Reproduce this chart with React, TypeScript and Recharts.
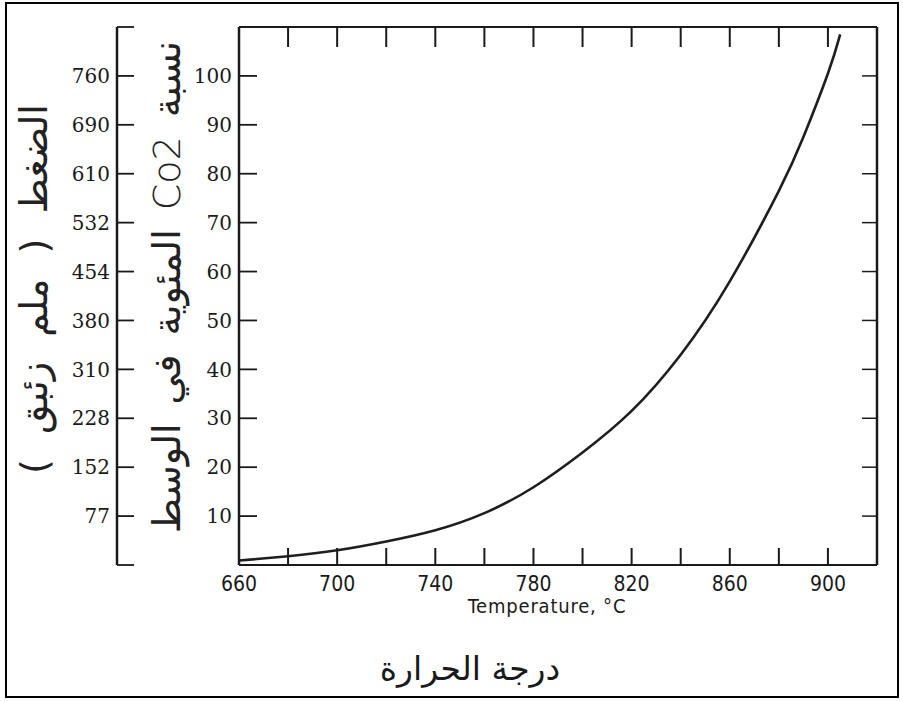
import React from 'react';
import { LineChart, Line, XAxis, YAxis } from 'recharts';

// ---- data ----
const temperatures = [660, 680, 700, 720, 740, 760, 780, 800, 820, 840, 860, 880, 890, 900, 905];
const co2Percent = [0.9, 1.8, 3.0, 4.8, 7.1, 10.6, 15.9, 23.0, 31.5, 43.0, 58.0, 76.5, 87.5, 100.5, 108.5];

const xTicks = [660, 680, 700, 720, 740, 760, 780, 800, 820, 840, 860, 880, 900];
const xLabelTicks = [660, 700, 740, 780, 820, 860, 900];

const percentTicks = [10, 20, 30, 40, 50, 60, 70, 80, 90, 100];
const percentLabels = ['10', '20', '30', '40', '50', '60', '70', '80', '90', '100'];

const pressureTicks = [0, 10, 20, 30, 40, 50, 60, 70, 80, 90, 100, 110];
const pressureLabels = ['', '77', '152', '228', '310', '380', '454', '532', '610', '690', '760', ''];

const data = temperatures.map((t, i) => ({ t, co2: co2Percent[i] }));

const INK = '#1a1a1a';
const SERIF = "'DejaVu Serif', 'Liberation Serif', serif";
const COND = "'DejaVu Sans Condensed', 'DejaVu Sans', sans-serif";
const ARABIC = "'DejaVu Sans', 'Noto Sans', sans-serif";

const BottomTick = (props: any) => {
  const { x, y, payload } = props;
  const v = payload.value;
  const show = xLabelTicks.includes(v);
  return (
    <g>
      <line x1={x} y1={y} x2={x} y2={y - 17} stroke={INK} strokeWidth={2} />
      {show && (
        <text x={x} y={y + 26} textAnchor="middle" fontFamily={COND} fontStretch="condensed" fontSize={21} fill={INK}>
          {String(v)}
        </text>
      )}
    </g>
  );
};

const TopTick = (props: any) => {
  const { x, y } = props;
  return <line x1={x} y1={y} x2={x} y2={y + 20} stroke={INK} strokeWidth={2} />;
};

const RightTick = (props: any) => {
  const { x, y } = props;
  return <line x1={x} y1={y} x2={x - 15} y2={y} stroke={INK} strokeWidth={1.5} />;
};

const PercentTick = (props: any) => {
  const { x, y, payload } = props;
  const idx = percentTicks.indexOf(payload.value);
  return (
    <g>
      <line x1={x} y1={y} x2={x + 18} y2={y} stroke={INK} strokeWidth={1.8} />
      <text x={x - 7} y={y} dy="0.36em" textAnchor="end" fontFamily={SERIF} fontSize={20} fill={INK}>
        {idx >= 0 ? percentLabels[idx] : ''}
      </text>
    </g>
  );
};

const PressureTick = (props: any) => {
  const { x, y, payload } = props;
  const idx = pressureTicks.indexOf(payload.value);
  const label = idx >= 0 ? pressureLabels[idx] : '';
  return (
    <g>
      <line x1={x} y1={y} x2={x + 17} y2={y} stroke={INK} strokeWidth={1.8} />
      {label && (
        <text x={x - 7} y={y} dy="0.36em" textAnchor="end" fontFamily={SERIF} fontSize={20} fill={INK}>
          {label}
        </text>
      )}
    </g>
  );
};

export default function App() {
  return (
    <div style={{ position: 'absolute', left: 0, top: 0, width: 903, height: 702, background: '#fff' }}>
      <LineChart
        width={903}
        height={702}
        data={data}
        margin={{ top: 7, right: 16, bottom: 97, left: 57 }}
      >
        <XAxis
          xAxisId="bottom"
          dataKey="t"
          type="number"
          domain={[660, 920]}
          ticks={xTicks}
          orientation="bottom"
          height={40}
          tickSize={0}
          tickMargin={0}
          tickLine={false}
          axisLine={{ stroke: INK, strokeWidth: 2 }}
          tick={<BottomTick />}
          interval={0}
          allowDataOverflow
        />
        <XAxis
          xAxisId="top"
          dataKey="t"
          type="number"
          domain={[660, 920]}
          ticks={xTicks.slice(1)}
          orientation="top"
          height={20}
          tickSize={0}
          tickMargin={0}
          tickLine={false}
          axisLine={{ stroke: INK, strokeWidth: 2 }}
          tick={<TopTick />}
          interval={0}
          allowDataOverflow
        />
        <YAxis
          yAxisId="pct"
          type="number"
          domain={[0, 110]}
          ticks={percentTicks}
          orientation="left"
          width={122}
          tickSize={0}
          tickMargin={0}
          tickLine={false}
          axisLine={{ stroke: INK, strokeWidth: 2.5 }}
          tick={<PercentTick />}
          interval={0}
          allowDataOverflow
        />
        <YAxis
          yAxisId="press"
          type="number"
          domain={[0, 110]}
          ticks={pressureTicks}
          orientation="left"
          width={60}
          tickSize={0}
          tickMargin={0}
          tickLine={false}
          axisLine={{ stroke: INK, strokeWidth: 2.5 }}
          tick={<PressureTick />}
          interval={0}
          allowDataOverflow
        />
        <YAxis
          yAxisId="right"
          type="number"
          domain={[0, 110]}
          ticks={percentTicks}
          orientation="right"
          width={10}
          tickSize={0}
          tickMargin={0}
          tickLine={false}
          axisLine={{ stroke: INK, strokeWidth: 2.5 }}
          tick={<RightTick />}
          interval={0}
          allowDataOverflow
        />
        <Line
          xAxisId="bottom"
          yAxisId="pct"
          dataKey="co2"
          type="natural"
          stroke="#1e1e1e"
          strokeWidth={2.6}
          dot={false}
          isAnimationActive={false}
        />
        <rect x={6} y={3} width={892} height={694} fill="none" stroke="#000" strokeWidth={2} />
        <text x={547} y={613} textAnchor="middle" fontFamily={COND} fontStretch="condensed" fontSize={20} letterSpacing={0.8} fill={INK}>
          Temperature, °C
        </text>
        <text
          transform="translate(34,289) rotate(-90)"
          textAnchor="middle"
          dominantBaseline="central"
          direction="rtl"
          fontFamily={ARABIC}
          fontSize={38}
          wordSpacing={13}
          fill="#222"
        >
          الضغط ( ملم زئبق )
        </text>
        <text
          transform="translate(167,287) rotate(-90)"
          textAnchor="middle"
          dominantBaseline="central"
          direction="rtl"
          fontFamily={ARABIC}
          fontSize={38}
          wordSpacing={7}
          fill="#222"
        >
          نسبة <tspan fontSize={38} fontWeight={300}>Co2</tspan> المئوية في الوسط
        </text>
        <text x={470} y={680} textAnchor="middle" direction="rtl" fontFamily={ARABIC} fontSize={33} fill={INK}>
          درجة الحرارة
        </text>
      </LineChart>
    </div>
  );
}
